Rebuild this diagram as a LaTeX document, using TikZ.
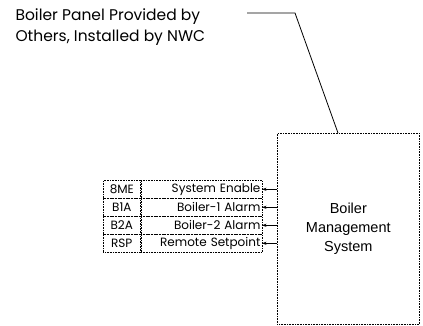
\documentclass[tikz,border=0pt]{standalone}
\usepackage{fontspec}
\setmainfont{Liberation Sans}
\newfontfamily\gothic{Poppins}
\usetikzlibrary{arrows.meta}

\begin{document}
\begin{tikzpicture}[x=1pt,y=-1pt,>={Stealth[length=1.5mm]},
  cell/.style={draw,densely dotted,semithick,minimum height=18pt,inner sep=1.5pt,font=\gothic\fontsize{12}{12}\selectfont}]
\useasboundingbox (0,0) rectangle (423,325);
\node[anchor=west,align=left,font=\gothic\fontsize{15.5}{21}\selectfont] (note) at (12,27) {Boiler Panel Provided by\\Others, Installed by NWC};
\node[draw,densely dotted,semithick,minimum width=142pt,minimum height=191pt,anchor=north west,align=center,
  font=\fontsize{14.5}{19}\selectfont] (bms) at (277,133) {Boiler\\Management\\System};
% leader from the note to the panel
\coordinate (lead) at (247,13);
\coordinate (knee) at (295,13);
\path (bms.north west) ++(61,0) coordinate (tip);
\draw[thick] (lead) -- (knee) -- (tip);
% signal table
\foreach \c/\t [count=\i] in {8ME/System Enable,B1A/Boiler-1 Alarm,B2A/Boiler-2 Alarm,RSP/Remote Setpoint} {
  \node[cell,minimum width=37pt,anchor=north west] (c\i) at (103,{180+18*(\i-1)}) {\c};
  \node[cell,text width=118pt,align=right,anchor=west] (d\i) at (c\i.east) {\t};
  \draw[<-,semithick] (d\i.east) -- (d\i.east -| bms.west);
}
\end{tikzpicture}
\end{document}
